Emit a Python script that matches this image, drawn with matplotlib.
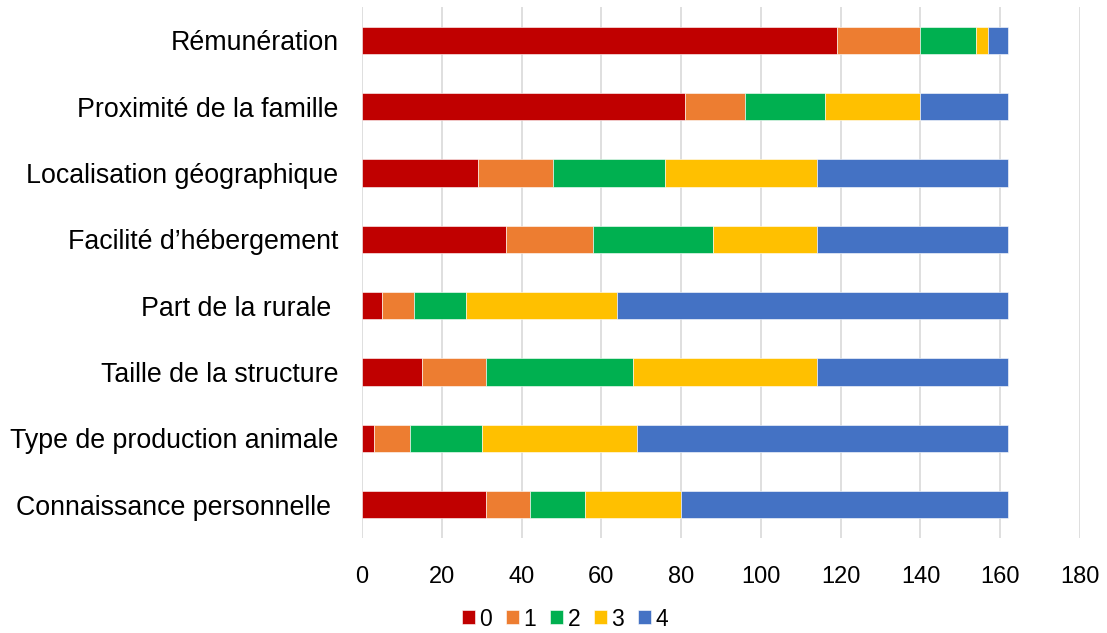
#!/usr/bin/env python3
"""Stacked horizontal bars: score distribution (0-4) per choice criterion."""

import matplotlib
matplotlib.use("Agg")
import matplotlib.pyplot as plt
import numpy as np

plt.rcParams["font.family"] = ["Liberation Sans", "DejaVu Sans"]

# top to bottom, as in the reference
CATEGORIES = [
    "Rémunération",
    "Proximité de la famille",
    "Localisation géographique",
    "Facilité d\u2019hébergement",
    "Part de la rurale ",
    "Taille de la structure",
    "Type de production animale",
    "Connaissance personnelle ",
]
SCORE_LABELS = ["0", "1", "2", "3", "4"]
SCORE_0 = [119, 81, 29, 36, 5, 15, 3, 31]
SCORE_1 = [21, 15, 19, 22, 8, 16, 9, 11]
SCORE_2 = [14, 20, 28, 30, 13, 37, 18, 14]
SCORE_3 = [3, 24, 38, 26, 38, 46, 39, 24]
SCORE_4 = [5, 22, 48, 48, 98, 48, 93, 82]
COLORS = ["#C00000", "#ED7D31", "#00B050", "#FFC000", "#4472C4"]
X_TICKS = [0, 20, 40, 60, 80, 100, 120, 140, 160, 180]


def main() -> int:
    fig = plt.figure(figsize=(11.07, 6.33), dpi=100)
    ax = fig.add_axes([362 / 1107, 1 - 538 / 633, 718 / 1107, 531 / 633])

    series = [SCORE_0, SCORE_1, SCORE_2, SCORE_3, SCORE_4]
    y = np.arange(len(CATEGORIES))
    left = np.zeros(len(CATEGORIES))
    for label, vals, col in zip(SCORE_LABELS, series, COLORS):
        vals = np.asarray(vals, dtype=float)
        ax.barh(y, vals, left=left, height=0.41, color=col, label=label,
                edgecolor="white", linewidth=0.4, zorder=3)
        left += vals

    ax.set_yticks(y)
    ax.set_yticklabels(CATEGORIES, fontsize=19.3)
    ax.set_ylim(len(CATEGORIES) - 0.5, -0.5)
    ax.set_xlim(0, 180)
    ax.set_xticks(X_TICKS)
    ax.tick_params(axis="x", labelsize=17, length=0, pad=20)
    ax.tick_params(axis="y", length=0, pad=17)
    ax.grid(True, axis="x", color="#D9D9D9", linewidth=1.2, zorder=0)
    for side in ("top", "right", "bottom", "left"):
        ax.spines[side].set_visible(False)

    fig.legend(loc="center", bbox_to_anchor=(565 / 1107, 1 - 619 / 633),
               ncol=5, frameon=False, fontsize=16.5, handlelength=0.57,
               handleheight=0.57, handletextpad=0.2, columnspacing=0.6,
               borderaxespad=0, borderpad=0)

    fig.savefig("out.png", dpi=100)
    plt.close(fig)
    return 0


if __name__ == "__main__":
    raise SystemExit(main())
